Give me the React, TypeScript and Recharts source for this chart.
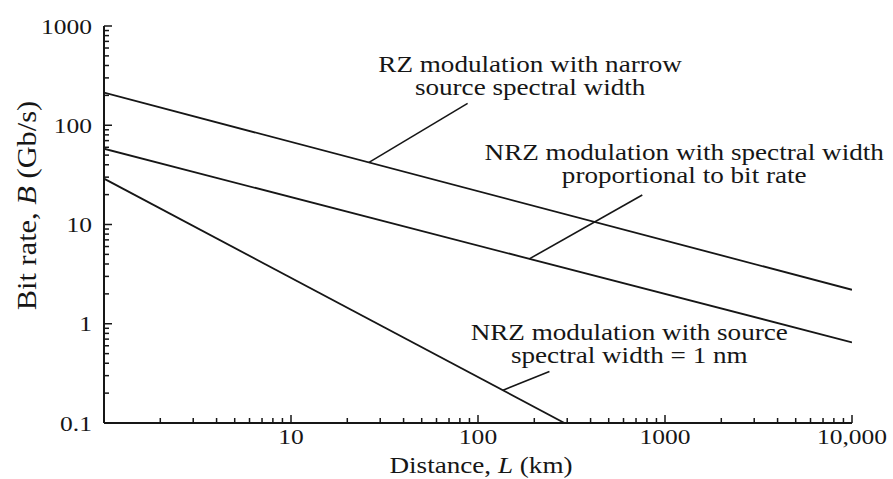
import React from 'react';
import { LineChart, Line, XAxis, YAxis, ReferenceLine, ReferenceDot, Label } from 'recharts';

const FONT = "'Liberation Serif', 'Times New Roman', Times, serif";
const INK = '#161616';

// Series (Distance L in km, Bit rate B in Gb/s)
const rzSeries = [
  { L: 1, B: 213 },
  { L: 10000, B: 2.2 },
];
const nrzSpectralSeries = [
  { L: 1, B: 58 },
  { L: 10000, B: 0.65 },
];
const nrzSourceSeries = [
  { L: 1, B: 29 },
  { L: 290, B: 0.1 },
];

// Axes
const xMajorTicks = [1, 10, 100, 1000, 10000];
const xTickLabels = ['', '10', '100', '1000', '10,000'];
const yMajorTicks = [0.1, 1, 10, 100, 1000];
const yTickLabels = ['0.1', '1', '10', '100', '1000'];
const minorSteps = [2, 3, 4, 5, 6, 7, 8, 9];

// Annotations (anchors in data coordinates)
const annotationText = [
  ['RZ modulation with narrow', 'source spectral width'],
  ['NRZ modulation with spectral width', 'proportional to bit rate'],
  ['NRZ modulation with source', 'spectral width = 1 nm'],
];
const annotationAnchor = [
  { L: 190, B: 344 },
  { L: 1267, B: 44.6 },
  { L: 644, B: 0.686 },
];
const leaderLines = [
  [{ x: 26, y: 42 }, { x: 88, y: 166 }],
  [{ x: 188, y: 4.5 }, { x: 756, y: 19.8 }],
  [{ x: 136, y: 0.214 }, { x: 241, y: 0.33 }],
];

function buildTicks(majors: number[]) {
  const out: number[] = [];
  majors.forEach((m, i) => {
    out.push(m);
    if (i < majors.length - 1) minorSteps.forEach((s) => out.push(m * s));
  });
  return out;
}
const xTicks = buildTicks(xMajorTicks);
const yTicks = buildTicks(yMajorTicks);

function SText({ x, y, anchor = 'middle', size = 23, sx = 1.18, sy = 1, rotate = 0, children }: any) {
  return (
    <text
      transform={`translate(${x},${y}) rotate(${rotate}) scale(${sx},${sy})`}
      x={0}
      y={0}
      textAnchor={anchor}
      fontFamily={FONT}
      fontSize={size}
      fill={INK}
    >
      {children}
    </text>
  );
}

const YTick = (props: any) => {
  const { x, y, payload } = props;
  const v = payload.value;
  const idx = yMajorTicks.indexOf(v);
  const major = idx >= 0;
  return (
    <g>
      <line x1={x} x2={x + (major ? 8 : 5)} y1={y} y2={y} stroke={INK} strokeWidth={1.5} />
      {major && (
        <SText x={x - 12} y={y + 7.5} anchor="end" size={22} sx={1.16}>
          {yTickLabels[idx]}
        </SText>
      )}
    </g>
  );
};

const XTick = (props: any) => {
  const { x, y, payload } = props;
  const v = payload.value;
  const idx = xMajorTicks.indexOf(v);
  const major = idx >= 0;
  return (
    <g>
      <line x1={x} x2={x} y1={y} y2={y - (major ? 8 : 5)} stroke={INK} strokeWidth={1.5} />
      {major && xTickLabels[idx] !== '' && (
        <SText x={x} y={y + 20.5} anchor="middle" size={22} sx={1.16}>
          {xTickLabels[idx]}
        </SText>
      )}
    </g>
  );
};

export default function App() {
  return (
    <div style={{ position: 'absolute', left: 0, top: 0, background: '#fff' }}>
      <LineChart width={893} height={479} margin={{ top: 26, right: 41, bottom: 26, left: 44 }}>
        <XAxis
          type="number"
          dataKey="L"
          scale="log"
          domain={[1, 10000]}
          ticks={xTicks}
          interval={0}
          allowDataOverflow
          tick={(p: any) => <XTick {...p} />}
          tickLine={false}
          tickSize={0}
          tickMargin={0}
          height={30}
          axisLine={{ stroke: INK, strokeWidth: 2 }}
        >
          <Label
            content={(p: any) => {
              const vb = p.viewBox || { x: 104, y: 423, width: 748 };
              return (
                <SText x={vb.x + vb.width / 2 + 3} y={vb.y + 50} size={23} sx={1.18}>
                  Distance, <tspan fontStyle="italic">L</tspan> (km)
                </SText>
              );
            }}
          />
        </XAxis>
        <YAxis
          type="number"
          scale="log"
          domain={[0.1, 1000]}
          ticks={yTicks}
          interval={0}
          allowDataOverflow
          tick={(p: any) => <YTick {...p} />}
          tickLine={false}
          tickSize={0}
          tickMargin={0}
          width={60}
          axisLine={{ stroke: INK, strokeWidth: 2 }}
        >
          <Label
            content={(p: any) => {
              const vb = p.viewBox || { x: 44, y: 26, height: 397 };
              return (
                <SText x={vb.x - 8} y={vb.y + vb.height / 2 - 19} rotate={-90} size={26} sx={1.17} sy={1.04}>
                  Bit rate, <tspan fontStyle="italic">B</tspan>{'  '}(Gb/s)
                </SText>
              );
            }}
          />
        </YAxis>

        <Line data={rzSeries} dataKey="B" type="linear" dot={false} stroke={INK} strokeWidth={1.8} isAnimationActive={false} />
        <Line data={nrzSpectralSeries} dataKey="B" type="linear" dot={false} stroke={INK} strokeWidth={1.8} isAnimationActive={false} />
        <Line data={nrzSourceSeries} dataKey="B" type="linear" dot={false} stroke={INK} strokeWidth={1.8} isAnimationActive={false} />

        {leaderLines.map((seg, i) => (
          <ReferenceLine key={`ld${i}`} segment={seg} stroke={INK} strokeWidth={1.6} />
        ))}

        {annotationAnchor.map((a, i) => (
          <ReferenceDot
            key={`an${i}`}
            x={a.L}
            y={a.B}
            r={0}
            shape={(p: any) => (
              <g>
                <SText x={p.cx} y={p.cy} size={23} sx={1.18}>{annotationText[i][0]}</SText>
                <SText x={p.cx} y={p.cy + 23} size={23} sx={1.18}>{annotationText[i][1]}</SText>
              </g>
            )}
          />
        ))}
      </LineChart>
    </div>
  );
}
